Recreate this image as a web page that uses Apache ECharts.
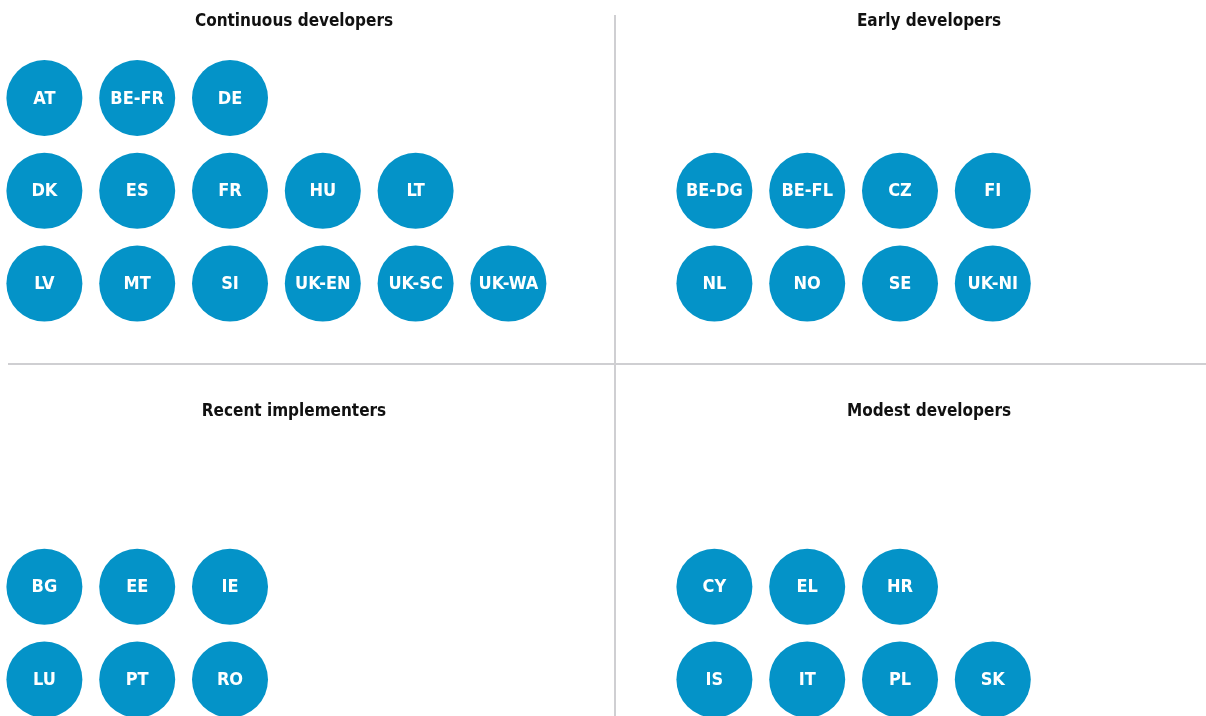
<!DOCTYPE html>
<html>
<head>
<meta charset="utf-8">
<script src="https://cdn.jsdelivr.net/npm/echarts@6/dist/echarts.min.js"></script>
<style>
  html, body { margin: 0; padding: 0; background: #fff; }
  #chart { width: 1206px; height: 716px; }
</style>
</head>
<body>
<div id="chart"></div>
<script>
// groups, one list per row of circles
const continuousDevelopers = [
  ['AT', 'BE-FR', 'DE'],
  ['DK', 'ES', 'FR', 'HU', 'LT'],
  ['LV', 'MT', 'SI', 'UK-EN', 'UK-SC', 'UK-WA']
];
const earlyDevelopers = [
  ['BE-DG', 'BE-FL', 'CZ', 'FI'],
  ['NL', 'NO', 'SE', 'UK-NI']
];
const recentImplementers = [
  ['BG', 'EE', 'IE'],
  ['LU', 'PT', 'RO']
];
const modestDevelopers = [
  ['CY', 'EL', 'HR'],
  ['IS', 'IT', 'PL', 'SK']
];
const groupTitles = ['Continuous developers', 'Early developers', 'Recent implementers', 'Modest developers'];
const groups = [continuousDevelopers, earlyDevelopers, recentImplementers, modestDevelopers];

const FONT = '"DejaVu Sans", sans-serif';
// font-stretch goes through the canvas font shorthand
const WEIGHT = 'bold condensed';
const BLUE = '#0493c8';
const STEP = 92.8;
const ROWS = 3;

// quadrant layout: left edge of col grid, top edge of row grid, title center
const quads = [
  { left: -2, top: 51.6, titleX: 294, titleY: 13 },
  { left: 668, top: 51.6, titleX: 929, titleY: 13 },
  { left: -2, top: 447.6, titleX: 294, titleY: 403 },
  { left: 668, top: 447.6, titleX: 929, titleY: 403 }
];

const chart = echarts.init(document.getElementById('chart'));

const grid = [], xAxis = [], yAxis = [], series = [], title = [];
groups.forEach((rows, g) => {
  const q = quads[g];
  grid.push({ left: q.left, top: q.top, width: STEP * 6, height: STEP * ROWS, outerBoundsMode: 'none', containLabel: false });
  xAxis.push({ gridIndex: g, type: 'value', min: -0.5, max: 5.5, show: false });
  yAxis.push({ gridIndex: g, type: 'value', min: -0.5, max: ROWS - 0.5, inverse: true, show: false });
  const offset = ROWS - rows.length; // rows sit at the bottom of the quadrant
  const data = [];
  rows.forEach((row, r) => {
    row.forEach((name, c) => data.push({ name: name, value: [c, r + offset] }));
  });
  series.push({
    type: 'scatter',
    xAxisIndex: g,
    yAxisIndex: g,
    symbolSize: 76,
    clip: false,
    itemStyle: { color: BLUE, opacity: 1 },
    label: {
      show: true,
      position: 'inside',
      offset: [0, 1],
      formatter: '{b}',
      color: '#fff',
      fontFamily: FONT,
      fontWeight: WEIGHT,
      fontSize: 18
    },
    emphasis: { disabled: true },
    data: data
  });
  title.push({
    text: groupTitles[g],
    left: q.titleX,
    top: q.titleY,
    textAlign: 'center',
    padding: 0,
    textStyle: { fontFamily: FONT, fontWeight: WEIGHT, fontSize: 17, color: '#111' }
  });
});

const option = {
  animation: false,
  backgroundColor: '#fff',
  title: title,
  grid: grid,
  xAxis: xAxis,
  yAxis: yAxis,
  series: series,
  graphic: [
    { type: 'line', shape: { x1: 615, y1: 15, x2: 615, y2: 716 }, style: { stroke: '#cfcfd2', lineWidth: 2 } },
    { type: 'line', shape: { x1: 8, y1: 364, x2: 1206, y2: 364 }, style: { stroke: '#cfcfd2', lineWidth: 2 } }
  ]
};

chart.setOption(option);
window.addEventListener('resize', () => chart.resize());
</script>
</body>
</html>
